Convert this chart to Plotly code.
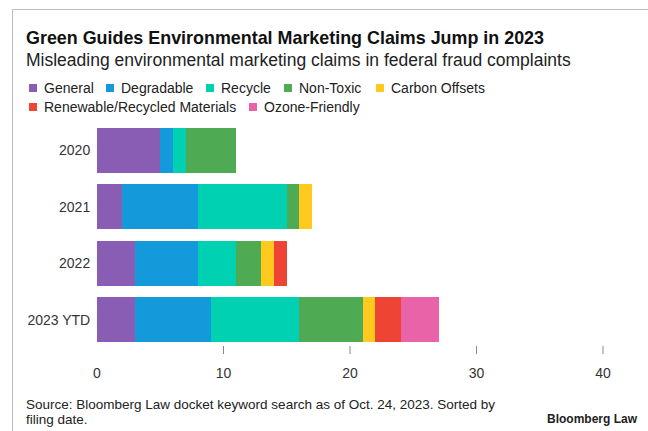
import plotly.graph_objects as go

# ---- data ----
years = ["2020", "2021", "2022", "2023 YTD"]
series_names = ["General", "Degradable", "Recycle", "Non-Toxic", "Carbon Offsets",
                "Renewable/Recycled Materials", "Ozone-Friendly"]
general = [5, 2, 3, 3]
degradable = [1, 6, 5, 6]
recycle = [1, 7, 3, 7]
non_toxic = [4, 1, 2, 5]
carbon_offsets = [0, 1, 1, 1]
renewable = [0, 0, 1, 2]
ozone = [0, 0, 0, 3]
x_tick_vals = [0, 10, 20, 30, 40]
tick_marks = [10, 20, 30, 40]

series_values = [general, degradable, recycle, non_toxic, carbon_offsets, renewable, ozone]
colors = ["#8A5DB4", "#1499DA", "#00D1B2", "#4EAA53", "#FFCA1D", "#EE4436", "#E963A8"]

# ---- geometry helpers (pixel -> paper) ----
W, H = 648, 431
L, R, T, B = 97, 628, 122, 348
PW, PH = R - L, B - T


def px(x):
    return (x - L) / PW


def py(y):
    return (B - y) / PH


FONT = "Liberation Sans, Arial, sans-serif"
TXT = "#1e1e1e"

fig = go.Figure()
for name, vals, col in zip(series_names, series_values, colors):
    fig.add_trace(go.Bar(
        y=years, x=vals, name=name, orientation="h",
        marker=dict(color=col, line=dict(width=0)),
        showlegend=False, hoverinfo="x+name",
    ))

annotations = []
shapes = []

# title / subtitle
annotations.append(dict(text="<b>Green Guides Environmental Marketing Claims Jump in 2023</b>",
                        x=px(24), y=py(38), xref="paper", yref="paper", xanchor="left",
                        yanchor="middle", showarrow=False,
                        font=dict(family=FONT, size=17.9, color="#111")))
annotations.append(dict(text="Misleading environmental marketing claims in federal fraud complaints",
                        x=px(24), y=py(60), xref="paper", yref="paper", xanchor="left",
                        yanchor="middle", showarrow=False,
                        font=dict(family=FONT, size=17.5, color="#222")))

# manual legend
legend_pos = [(29, 88), (106, 88), (206, 88), (284, 88), (376, 88), (29, 107), (249, 107)]
for (lx, ly), name, col in zip(legend_pos, series_names, colors):
    shapes.append(dict(type="rect", xref="paper", yref="paper",
                       x0=px(lx), x1=px(lx + 8), y0=py(ly - 4), y1=py(ly + 4),
                       fillcolor=col, line=dict(width=0)))
    annotations.append(dict(text=name, x=px(lx + 13), y=py(ly), xref="paper", yref="paper",
                            xanchor="left", yanchor="middle", showarrow=False,
                            font=dict(family=FONT, size=14, color="#222")))

# tick marks (no mark at 0)
for v in tick_marks:
    shapes.append(dict(type="line", xref="x", yref="paper", x0=v, x1=v,
                       y0=py(346), y1=py(354), line=dict(color="#888", width=1)))

# footer
annotations.append(dict(text="Source: Bloomberg Law docket keyword search as of Oct. 24, 2023. Sorted by",
                        x=px(24), y=py(404), xref="paper", yref="paper", xanchor="left",
                        yanchor="middle", showarrow=False,
                        font=dict(family=FONT, size=13.5, color="#222")))
annotations.append(dict(text="filing date.",
                        x=px(24), y=py(419), xref="paper", yref="paper", xanchor="left",
                        yanchor="middle", showarrow=False,
                        font=dict(family=FONT, size=13.5, color="#222")))
annotations.append(dict(text="<b>Bloomberg Law</b>",
                        x=px(640), y=py(419), xref="paper", yref="paper", xanchor="right",
                        yanchor="middle", showarrow=False,
                        font=dict(family=FONT, size=12, color="#222")))

# frame
shapes.append(dict(type="line", xref="paper", yref="paper", x0=px(12.5), x1=px(648),
                   y0=py(9.5), y1=py(9.5), line=dict(color="#bdbdbd", width=1)))
shapes.append(dict(type="line", xref="paper", yref="paper", x0=px(12.5), x1=px(12.5),
                   y0=py(9.5), y1=py(431), line=dict(color="#bdbdbd", width=1)))

fig.update_layout(
    width=W, height=H,
    margin=dict(l=L, r=W - R, t=T, b=H - B, pad=0),
    barmode="stack", bargap=0.2,
    paper_bgcolor="white", plot_bgcolor="white",
    font=dict(family=FONT, color=TXT),
    showlegend=False,
    annotations=annotations, shapes=shapes,
    xaxis=dict(range=[0, PW / 12.65], tickvals=x_tick_vals, ticks="outside", ticklen=12,
               tickcolor="rgba(0,0,0,0)", showgrid=False, zeroline=False, showline=False,
               tickfont=dict(family=FONT, size=14, color="#333"), fixedrange=True),
    yaxis=dict(categoryorder="array", categoryarray=years, autorange="reversed",
               ticks="outside", ticklen=3, tickcolor="rgba(0,0,0,0)",
               showgrid=False, zeroline=False, showline=False,
               tickfont=dict(family=FONT, size=14, color="#333"), fixedrange=True),
)

fig.write_html("out.html")
